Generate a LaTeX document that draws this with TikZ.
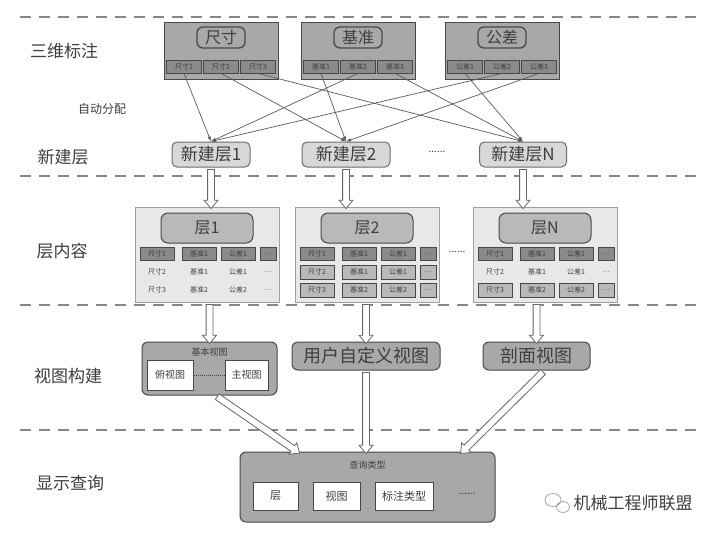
\documentclass[tikz,border=0pt]{standalone}
\usepackage{fontspec}
\setmainfont{Noto Sans CJK SC}
\usetikzlibrary{shapes.arrows,calc,arrows.meta}
\definecolor{boxgray}{RGB}{168,168,168}
\definecolor{subgray}{RGB}{138,138,138}
\definecolor{edge}{RGB}{72,72,72}
\definecolor{lightbg}{RGB}{232,232,232}
\definecolor{newfill}{RGB}{216,216,216}
\definecolor{txt}{RGB}{62,62,62}
\definecolor{dashc}{RGB}{135,135,135}
% hollow arrow between two points
\newcommand\bigarrow[2]{%
  \path let \p1=(#1), \p2=(#2), \n1={atan2(\y2-\y1,\x2-\x1)}, \n2={veclen(\x2-\x1,\y2-\y1)} in
    node[hollowarr, minimum height=\n2, rotate=\n1] at ($(\p1)!0.5!(\p2)$) {};}
\begin{document}
\begin{tikzpicture}[x=1pt,y=-1pt,>=latex,
  topbox/.style={draw=edge,fill=boxgray,line width=1pt,inner sep=0pt},
  tag/.style={draw=edge,fill=boxgray,rounded corners=6pt,line width=1.3pt,inner sep=0pt,text=txt,font=\fontsize{16}{16}\selectfont},
  subbox/.style={draw=edge,fill=subgray,line width=0.8pt,minimum width=35,minimum height=13,inner sep=0pt,text=txt,font=\fontsize{7}{7}\selectfont},
  newlayer/.style={draw=edge!80,fill=newfill,rounded corners=5pt,line width=1pt,minimum height=25,inner sep=0pt,text=txt,font=\fontsize{17}{17}\selectfont},
  laybox/.style={draw=gray!75,fill=lightbg,line width=1pt,minimum height=95,inner sep=0pt},
  laytag/.style={draw=edge,fill=gray!55,rounded corners=7pt,line width=1pt,minimum width=92,minimum height=30,text=txt,font=\fontsize{16}{16}\selectfont},
  cell/.style={minimum height=14,inner sep=0pt,line width=0.8pt,text=txt,font=\fontsize{7}{7}\selectfont},
  viewbox/.style={draw=edge,fill=boxgray,rounded corners=6pt,line width=1pt,inner sep=0pt,text=txt},
  whitebox/.style={draw=edge,fill=white,line width=1pt,inner sep=0pt,text=txt,font=\fontsize{10}{10}\selectfont},
  lefttxt/.style={text=txt,font=\fontsize{17}{17}\selectfont},
  dots/.style={text=txt,font=\fontsize{10}{10}\selectfont},
  link/.style={-{Latex[length=5pt,width=3.5pt]},draw=edge!90,line width=0.7pt},
  hollowarr/.style={single arrow,draw=gray!80!black,fill=white,line width=0.8pt,inner xsep=0pt,inner ysep=3pt,
    minimum width=13,single arrow head extend=3.5pt,single arrow head indent=0pt,single arrow tip angle=80,outer sep=0pt,anchor=center},
  sepline/.style={draw=dashc,line width=1.6pt,dash pattern=on 11pt off 8pt}]
\useasboundingbox[fill=white] (0,0) rectangle (714,535);

% separators
\foreach \y in {17,176,305,430} \draw[sepline] (20,\y) -- (700,\y);

% left labels
\node[lefttxt] (l1) at (64,51) {三维标注};
\node[text=txt,font=\fontsize{12}{12}\selectfont] (auto) at (102,109) {自动分配};
\node[lefttxt] (l2) at (63,157) {新建层};
\node[lefttxt] (l3) at (62,251) {层内容};
\node[lefttxt] (l4) at (68,376) {视图构建};
\node[lefttxt] (l5) at (70,483) {显示查询};

% 3D annotations
\foreach \n/\x/\t in {cc/221/尺寸,jz/358/基准,gc/502/公差}{
  \node[topbox,minimum width=114,minimum height=56] (\n) at (\x,51) {};
  \node[tag,minimum width=48,minimum height=21] (\n-tag) at (\x,37.5) {\t};
  \foreach \k/\d in {1/-37,2/0,3/37}
    \node[subbox] (\n\k) at (\x+\d,66.5) {\t\k};
}

% new layers
\node[newlayer,minimum width=78] (new1) at (211,154.5) {新建层1};
\node[newlayer,minimum width=88] (new2) at (346,154.5) {新建层2};
\node[dots] (dotsA) at (437,152) {......};
\node[newlayer,minimum width=87] (newN) at (523,154.5) {新建层N};

\foreach \a/\b in {cc1/new1,cc2/new2,cc3/newN,jz1/new2,jz2/new1,jz3/newN,gc1/newN,gc2/new1,gc3/new2}
  \draw[link] (\a.south) -- (\b.north);

% layer contents
\foreach \k/\l/\fa/\da/\fb/\db in {1/135/lightbg/none/lightbg/none,2/295/gray!55/edge/gray!55/edge,N/473/lightbg/none/gray!55/edge}{
  \node[laybox,minimum width=144,anchor=west] (lay\k) at (\l,254.5) {};
  \node[laytag] (lay\k-tag) at (\l+72,228) {层\k};
  \foreach \dx/\w/\ta/\tb/\tc [count=\c] in {22/34/尺寸1/尺寸2/尺寸3,64/34/基准1/基准1/基准2,103/34/公差1/公差1/公差2,133/16/…/…/…}{
    \node[cell,draw=edge,fill=subgray,minimum width=\w,minimum height=13] (lay\k-a\c) at (\l+\dx,254) {\ta};
    \node[cell,draw=\da,fill=\fa,minimum width=\w] (lay\k-b\c) at (\l+\dx,272) {\tb};
    \node[cell,draw=\db,fill=\fb,minimum width=\w] (lay\k-c\c) at (\l+\dx,290) {\tc};
  }
}
\node[dots] (dotsB) at (457,252) {......};

% views
\node[viewbox,minimum width=135,minimum height=53] (base) at (209.5,368.5) {};
\node[text=txt,font=\fontsize{9}{9}\selectfont] (base-t) at (209.5,352) {基本视图};
\node[whitebox,minimum width=46,minimum height=30] (top) at (170,375) {俯视图};
\node[whitebox,minimum width=43,minimum height=30] (front) at (246.5,375) {主视图};
\draw[edge,line width=0.8pt,dash pattern=on 1pt off 1pt] (top) -- (front);
\node[viewbox,minimum width=148,minimum height=28,font=\fontsize{18}{18}\selectfont] (user) at (366,356) {用户自定义视图};
\node[viewbox,minimum width=107,minimum height=28,font=\fontsize{18}{18}\selectfont] (sect) at (536.5,356) {剖面视图};

% query
\node[viewbox,minimum width=255,minimum height=70] (query) at (367.5,487) {};
\node[text=txt,font=\fontsize{9}{9}\selectfont] (query-t) at (367.5,465) {查询类型};
\node[whitebox,minimum width=45,minimum height=28,font=\fontsize{11}{11}\selectfont] (qlayer) at (275.5,496) {层};
\node[whitebox,minimum width=47,minimum height=28,font=\fontsize{11}{11}\selectfont] (qview) at (336.5,496) {视图};
\node[whitebox,minimum width=58,minimum height=28,font=\fontsize{11}{11}\selectfont] (qtype) at (404,496) {标注类型};
\node[dots] (dotsC) at (467,494) {......};

% hollow arrows
\coordinate (q1) at (298,452);
\coordinate (q3) at (462,452);
\bigarrow{new1.south}{new1.south |- lay1.north}
\bigarrow{new2.south}{new2.south |- lay2.north}
\bigarrow{newN.south}{newN.south |- layN.north}
\bigarrow{base.north |- lay1.south}{base.north}
\bigarrow{user.north |- lay2.south}{user.north}
\bigarrow{sect.north |- layN.south}{sect.north}
\bigarrow{$(base.south)+(6,0)$}{q1}
\bigarrow{user.south}{user.south |- query.north}
\bigarrow{$(sect.south)+(8,0)$}{q3}

% watermark
\draw[gray!70,line width=0.8pt] (553,500) ellipse (8 and 6.5) (563,507) ellipse (6.5 and 5.5);
\node[text=txt,font=\fontsize{17}{17}\selectfont,anchor=west] (mark) at (570,503) {机械工程师联盟};
\end{tikzpicture}
\end{document}
